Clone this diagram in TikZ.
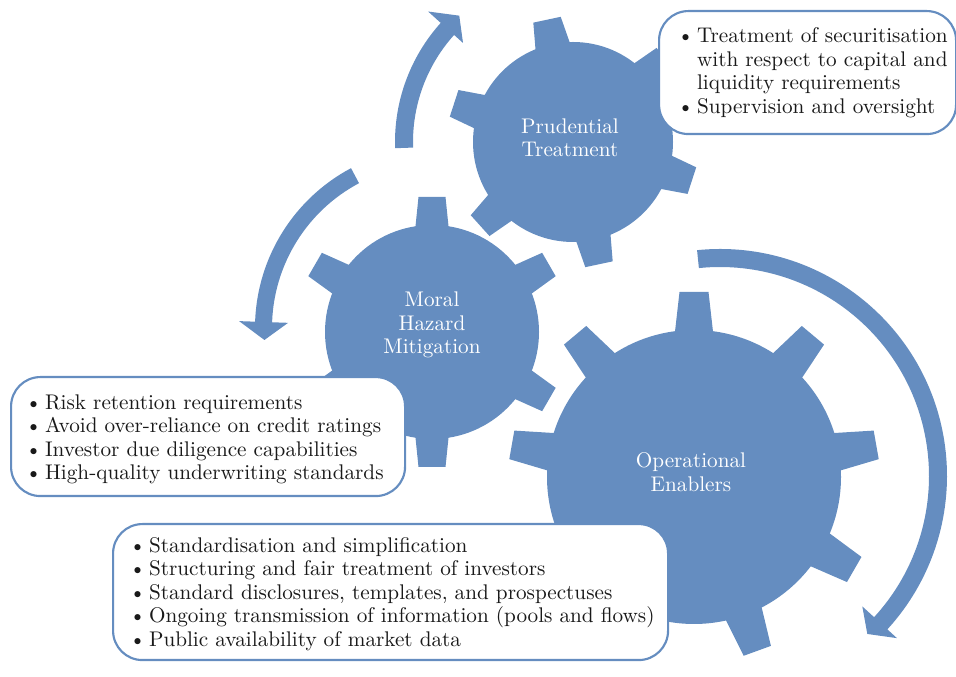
\documentclass[tikz,border=0pt]{standalone}
\usepackage{xcolor}
\usetikzlibrary{positioning}
\definecolor{gearblue}{RGB}{101,141,192}
\font\listfont="[lmroman10-regular]:mapping=tex-text" at 15.9pt

% gear: centre, body radius, tip radius, teeth, first angle, base half width, tip half width
\newcommand{\drawgear}[7]{%
  \fill[gear] #1 circle[radius=#2];
  \foreach \k in {1,...,#4}{
    \fill[gear, shift={#1}, rotate={#5+360/#4*(\k-1)}]
      (#2-6,-#6) -- (#3,-#7) -- (#3,#7) -- (#2-6,#6) -- cycle;
  }
}
\newcommand{\bul}{\textbullet\hspace{2.5pt}}
\newcommand{\bulindent}{\hphantom{\bul}}

\tikzset{
  gear/.style={fill=gearblue},
  cyclearrow/.style={fill=gearblue},
  gearlabel/.style={text=white, align=center, font={\fontsize{15.9}{17.6}\selectfont\listfont}},
  listbox/.style={draw=gearblue, line width=1.6pt, fill=white, rounded corners=22pt,
    anchor=north west, inner sep=0pt},
  listtext/.style={align=left, anchor=west, inner sep=0pt, text=black!90,
    font={\fontsize{15.9}{17.6}\selectfont\listfont}}
}

\begin{document}
\begin{tikzpicture}[x=0.75pt, y=0.75pt]
  \useasboundingbox (0,0) rectangle (956,677);

  % cycle arrows
  \begin{scope}[shift={(573,535)}]
    \fill[cyclearrow] (182:160) arc[start angle=182, end angle=138, radius=160]
      -- (138:148) -- (132:170) -- (138:195) -- (138:178)
      arc[start angle=138, end angle=182, radius=178] -- cycle;
  \end{scope}
  \begin{scope}[shift={(436,349)}]
    \fill[cyclearrow] (118:164) arc[start angle=118, end angle=178, radius=164]
      -- (178:148) -- (184:172) -- (178:197) -- (178:181)
      arc[start angle=178, end angle=118, radius=181] -- cycle;
  \end{scope}
  \begin{scope}[shift={(720,201)}]
    \fill[cyclearrow] (95.8:227) arc[start angle=95.8, end angle=-42.5, radius=227]
      -- (-42.5:240) -- (-47:216) -- (-42.5:193) -- (-42.5:209)
      arc[start angle=-42.5, end angle=95.8, radius=209] -- cycle;
  \end{scope}

  % gears
  \coordinate (prud) at (573,535);
  \coordinate (moral) at (432,345);
  \coordinate (oper) at (694,200);
  \drawgear{(prud)}{100}{125}{6}{102}{18}{14}
  \drawgear{(moral)}{107}{135}{6}{30}{17}{13.5}
  \drawgear{(oper)}{147}{185}{9}{10}{19.5}{14.5}

  \node[gearlabel] (prudlabel) at (570,539) {Prudential\\Treatment};
  \node[gearlabel] (morallabel) at (432,352) {Moral\\Hazard\\Mitigation};
  \node[gearlabel] (operlabel) at (691,205) {Operational\\Enablers};

  % lists
  \node[listbox, minimum width=222.75pt, minimum height=92.25pt] (prudbox) at (658,667) {};
  \node[listtext] (prudtext) at ([xshift=14.25pt]prudbox.west)
    {\bul Treatment of securitisation\\
     \bulindent with respect to capital and\\
     \bulindent liquidity requirements\\
     \bul Supervision and oversight};

  \node[listbox, minimum width=295.5pt, minimum height=89.25pt] (moralbox) at (10,301) {};
  \node[listtext] (moraltext) at ([xshift=11.25pt, yshift=-2pt]moralbox.west)
    {\bul Risk retention requirements\\
     \bul Avoid over-reliance on credit ratings\\
     \bul Investor due diligence capabilities\\
     \bul High-quality underwriting standards};

  \node[listbox, minimum width=416.25pt, minimum height=102pt] (operbox) at (112,154) {};
  \node[listtext] (opertext) at ([xshift=12.75pt, yshift=-1.5pt]operbox.west)
    {\bul Standardisation and simplification\\
     \bul Structuring and fair treatment of investors\\
     \bul Standard disclosures, templates, and prospectuses\\
     \bul Ongoing transmission of information (pools and flows)\\
     \bul Public availability of market data};
\end{tikzpicture}
\end{document}
